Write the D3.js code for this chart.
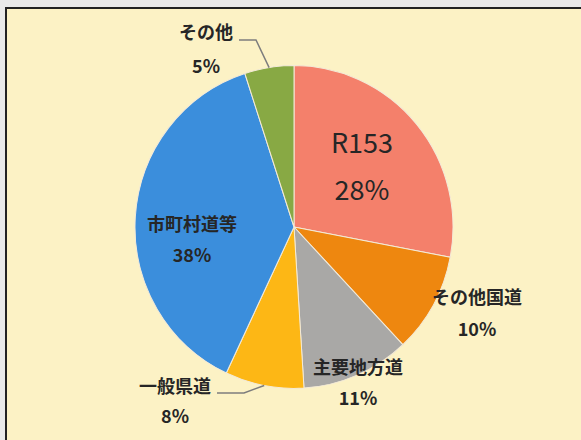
<!DOCTYPE html>
<html>
<head>
<meta charset="utf-8">
<script src="https://cdn.jsdelivr.net/npm/d3@7"></script>
<style>
  body { margin: 0; background: #e9e9e9; }
  svg { display: block; }
</style>
</head>
<body>
<div id="chart"></div>
<script>
// podaci
const kategorije = ["R153", "その他国道", "主要地方道", "一般県道", "市町村道等", "その他"];
const vrijednosti = [28, 10, 11, 8, 38, 5];
const boje = ["#f4806b", "#ee870f", "#a9a8a6", "#fdb715", "#3b8edc", "#88a944"];

// dimenzije
const sirina = 581, visina = 440;
const cx = 294, cy = 227, radius = 159;

const svg = d3.select("#chart")
    .append("svg")
    .attr("width", sirina)
    .attr("height", visina);

// okvir i pozadina
svg.append("rect")
    .attr("x", 6).attr("y", 8)
    .attr("width", sirina - 6).attr("height", visina - 8)
    .attr("fill", "#fcf2c5");
svg.append("line")
    .attr("x1", 5).attr("y1", 8).attr("x2", sirina).attr("y2", 8)
    .attr("stroke", "#222").attr("stroke-width", 2);
svg.append("line")
    .attr("x1", 6).attr("y1", 8).attr("x2", 6).attr("y2", visina)
    .attr("stroke", "#222").attr("stroke-width", 2);

const data = kategorije.map((k, i) => ({ name: k, value: vrijednosti[i], color: boje[i] }));

const pie = d3.pie().sort(null).value(d => d.value);
const arcs = pie(data);

const arc = d3.arc().innerRadius(0).outerRadius(radius);

const g = svg.append("g")
    .attr("transform", `translate(${cx},${cy}) scale(1,1.015)`);

g.selectAll("path")
    .data(arcs)
    .enter().append("path")
    .attr("d", arc)
    .attr("fill", d => d.data.color)
    .attr("stroke", "#f3ead8")
    .attr("stroke-width", 1);

// pozicije labela (sredina teksta)
const labele = {
    "R153":      { x: 362, y: 143, y2: 190, size: 27, weight: 400 },
    "その他国道": { x: 477, y: 298, y2: 330, size: 18, weight: 700 },
    "主要地方道": { x: 358, y: 368, y2: 399, size: 18, weight: 700 },
    "一般県道":   { x: 175, y: 387, y2: 417, size: 18, weight: 700 },
    "市町村道等": { x: 192, y: 225, y2: 256, size: 18, weight: 700 },
    "その他":     { x: 206, y: 33,  y2: 67,  size: 18, weight: 700 }
};

// linije vodilice
const tocka = (d, r) => {
    const a = (d.startAngle + d.endAngle) / 2;
    return [cx + r * Math.sin(a), cy - r * Math.cos(a) * 1.015];
};
const vodilice = {
    "その他":   d => [[239, 40], [256, 40], tocka(d, radius)],
    "一般県道": d => [[217, 393], [244, 393], tocka(d, radius)]
};
arcs.filter(d => vodilice[d.data.name]).forEach(d => {
    svg.append("path")
        .attr("d", d3.line()(vodilice[d.data.name](d)))
        .attr("fill", "none")
        .attr("stroke", "#7d7d7d")
        .attr("stroke-width", 1.5);
});

const pct = d => Math.round(d.value / d3.sum(vrijednosti) * 100) + "%";

arcs.forEach(d => {
    const l = labele[d.data.name];
    [[d.data.name, l.y], [pct(d), l.y2]].forEach(([t, y]) => {
        svg.append("text")
            .attr("x", l.x)
            .attr("y", y)
            .attr("dy", "0.36em")
            .attr("text-anchor", "middle")
            .style("font-family", "'Noto Sans CJK JP', 'Noto Sans', sans-serif")
            .style("font-size", l.size + "px")
            .style("font-weight", l.weight)
            .style("fill", "#262626")
            .text(t);
    });
});
</script>
</body>
</html>
